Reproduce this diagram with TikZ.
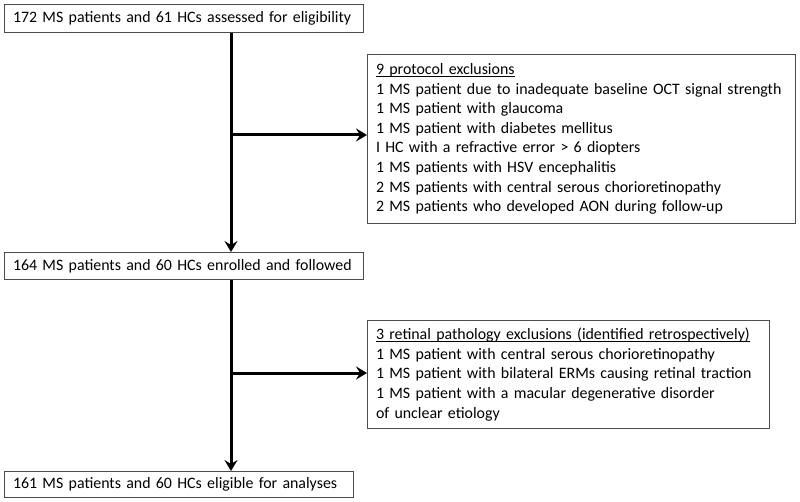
\documentclass[tikz,border=0pt]{standalone}
\usepackage{fontspec}
\setmainfont{Carlito}
\usetikzlibrary{arrows.meta}
\newcommand\myul[1]{\setbox0\hbox{#1}\rlap{\rule[-1.8pt]{\wd0}{0.8pt}}\box0}
\begin{document}
\begin{tikzpicture}[x=1pt,y=-1pt,
 box/.style={draw=black!70, line width=1pt, anchor=north west, inner xsep=8.5pt, inner ysep=0pt, align=left,
   font=\fontsize{15.9}{19.6}\selectfont},
 flow/.style={line width=3pt, -{Stealth[width=13pt,length=11pt,inset=4pt]}}]
\useasboundingbox (0,0) rectangle (800,502);
\node[box, minimum width=359pt, minimum height=28pt, text width=342pt] (b1) at (4,4)
  {172 MS patients and 61 HCs assessed for eligibility};
\node[box, minimum width=428pt, minimum height=169pt, text width=411pt] (b2) at (367,54)
  {\myul{9 protocol exclusions}\\
   1 MS patient due to inadequate baseline OCT signal strength\\
   1 MS patient with glaucoma\\
   1 MS patient with diabetes mellitus\\
   I HC with a refractive error > 6 diopters\\
   1 MS patients with HSV encephalitis\\
   2 MS patients with central serous chorioretinopathy\\
   2 MS patients who developed AON during follow-up};
\node[box, minimum width=359pt, minimum height=27pt, text width=342pt] (b3) at (4,252)
  {164 MS patients and 60 HCs enrolled and followed};
\node[box, minimum width=402pt, minimum height=108pt, text width=385pt] (b4) at (367,320)
  {\myul{3 retinal pathology exclusions (identified retrospectively)}\\
   1 MS patient with central serous chorioretinopathy\\
   1 MS patient with bilateral ERMs causing retinal traction\\
   1 MS patient with a macular degenerative disorder\\
   of unclear etiology};
\node[box, minimum width=349pt, minimum height=26pt, text width=332pt] (b5) at (4,471)
  {161 MS patients and 60 HCs eligible for analyses};
\coordinate (v1) at (231,135);
\coordinate (v2) at (231,373);
\draw[flow] (b1.south -| v1) -- (b3.north -| v1);
\draw[flow] (v1) -- (v1 -| b2.west);
\draw[flow] (b3.south -| v2) -- (b5.north -| v2);
\draw[flow] (v2) -- (v2 -| b4.west);
\end{tikzpicture}
\end{document}
